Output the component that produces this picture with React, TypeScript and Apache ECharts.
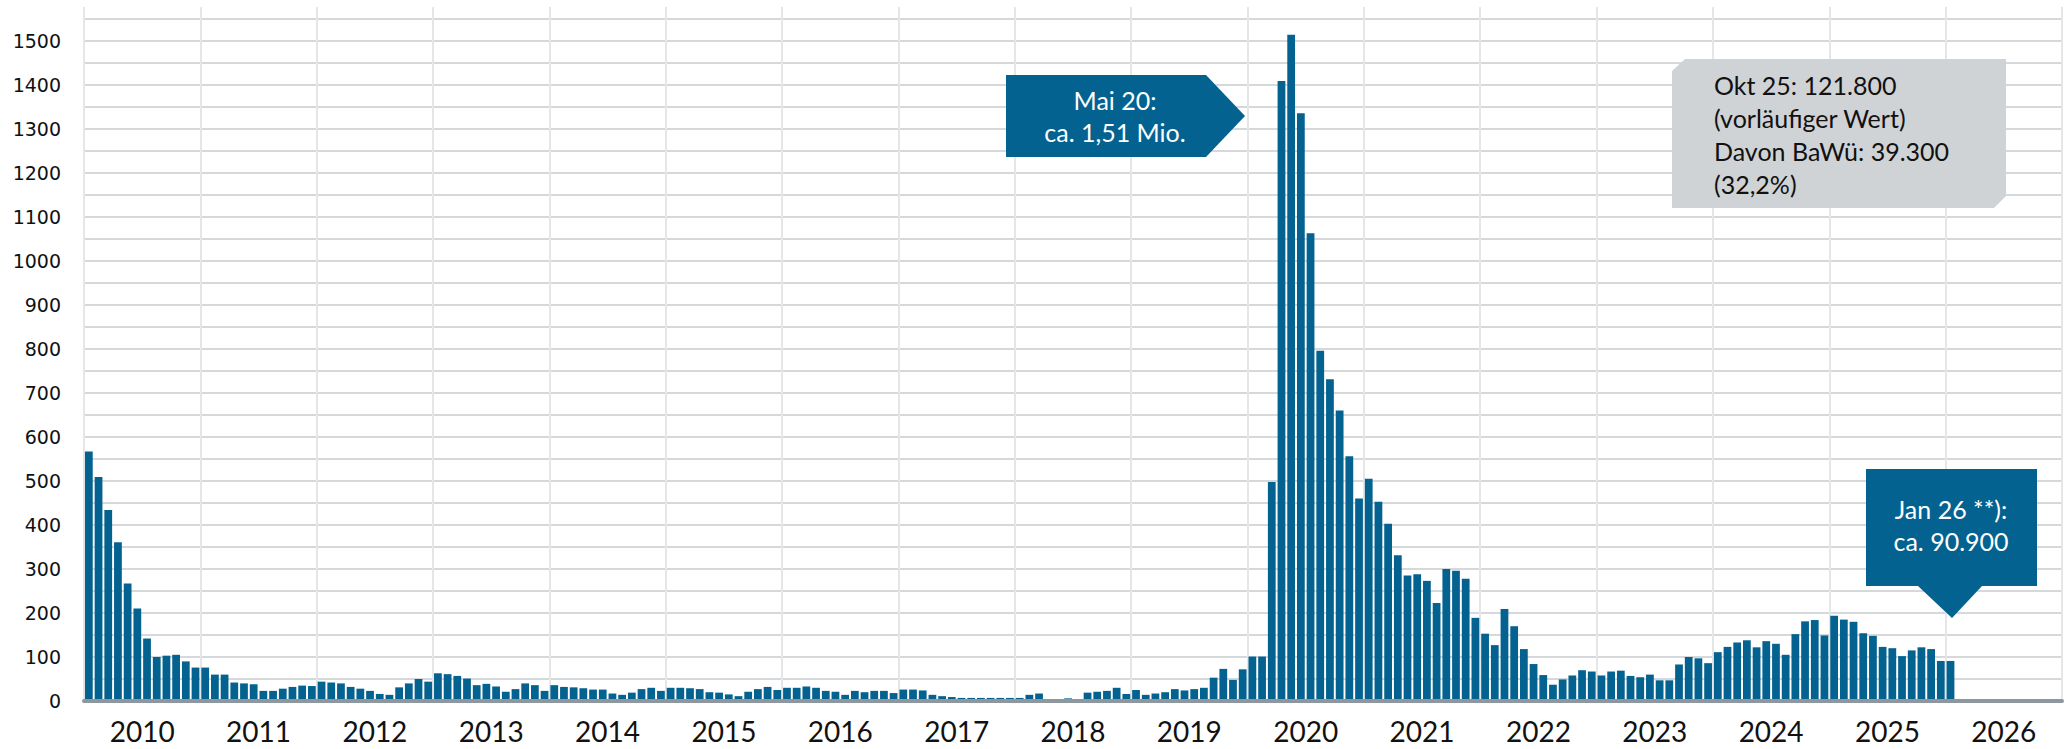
import React, { useEffect, useRef } from "react";
import * as echarts from "echarts";

const years = ["2010","2011","2012","2013","2014","2015","2016","2017","2018","2019","2020","2021","2022","2023","2024","2025","2026"];

const v2010 = [567, 509, 434, 361, 267, 210, 142, 100, 103, 105, 90, 76];
const v2011 = [76, 60, 60, 42, 40, 38, 23, 23, 28, 32, 35, 34];
const v2012 = [44, 42, 40, 32, 28, 23, 16, 14, 31, 40, 50, 44];
const v2013 = [63, 61, 57, 51, 36, 39, 33, 21, 27, 40, 36, 23];
const v2014 = [36, 32, 31, 29, 26, 26, 17, 14, 19, 27, 30, 23];
const v2015 = [30, 30, 29, 27, 20, 19, 15, 11, 21, 27, 32, 25];
const v2016 = [30, 30, 33, 30, 23, 21, 14, 23, 20, 23, 23, 18];
const v2017 = [26, 26, 24, 14, 11, 9, 7, 7, 7, 7, 7, 7];
const v2018 = [7, 14, 17, 0, 0, 6, 0, 19, 21, 23, 30, 16];
const v2019 = [25, 14, 17, 20, 27, 24, 27, 30, 53, 73, 48, 72];
const v2020 = [101, 101, 498, 1409, 1514, 1336, 1063, 796, 731, 660, 556, 460];
const v2021 = [505, 453, 403, 331, 285, 288, 273, 223, 300, 296, 278, 189];
const v2022 = [153, 127, 209, 170, 118, 84, 59, 37, 49, 58, 70, 67];
const v2023 = [58, 67, 69, 57, 54, 60, 47, 47, 83, 100, 97, 86];
const v2024 = [111, 123, 133, 138, 122, 136, 130, 105, 152, 181, 184, 149];
const v2025 = [194, 185, 180, 154, 148, 123, 120, 102, 115, 122, 118, 91];
const v2026 = [91];

const yearValues = [v2010, v2011, v2012, v2013, v2014, v2015, v2016, v2017, v2018, v2019, v2020, v2021, v2022, v2023, v2024, v2025, v2026];
const monthNames = ["Jan","Feb","Mär","Apr","Mai","Jun","Jul","Aug","Sep","Okt","Nov","Dez"];

const annoMai = "Mai 20:\nca. 1,51 Mio.";
const annoOkt = "Okt 25: 121.800\n(vorläufiger Wert)\nDavon BaWü: 39.300\n(32,2%)";
const annoJan = "Jan 26 **):\nca. 90.900";

export default function App() {
  const ref = useRef<HTMLDivElement>(null);
  useEffect(() => {
    if (!ref.current) return;
    const chart = echarts.init(ref.current, undefined, { renderer: "svg" });
    const months: string[] = [];
    const values: (number | null)[] = [];
    years.forEach((y, i) => {
      monthNames.forEach((m, j) => {
        months.push(m + " " + y);
        const arr = yearValues[i];
        values.push(j < arr.length ? arr[j] : null);
      });
    });
    const blue = "#03628F";
    const annoFont = "Lato";
    chart.setOption({
      animation: false,
      backgroundColor: "#ffffff",
      grid: [
        { left: 84, right: 7, top: 19, bottom: 48 },
        { left: 84, right: 7, top: 7, bottom: 48 },
      ],
      xAxis: [
        {
          type: "category",
          gridIndex: 0,
          data: months,
          axisLine: { show: true, lineStyle: { color: "#8E979D", width: 4 } },
          axisTick: { show: false },
          axisLabel: { show: false },
          splitLine: { show: false },
          z: 10,
        },
        {
          type: "category",
          gridIndex: 1,
          data: years,
          position: "bottom",
          axisLine: { show: false },
          axisTick: { show: false },
          axisLabel: { fontFamily: "Lato", fontSize: 28, color: "#111111", margin: 16 },
          splitLine: { show: true, lineStyle: { color: "#E4E6E8", width: 2 } },
        },
      ],
      yAxis: [
        {
          type: "value",
          gridIndex: 0,
          min: 0,
          max: 1550,
          interval: 50,
          axisLine: { show: false },
          axisTick: { show: false },
          axisLabel: {
            formatter: (v: number) => (v % 100 === 0 ? String(v) : ""),
            fontFamily: "DejaVu Sans",
            fontSize: 19,
            color: "#111111",
            margin: 23,
          },
          splitLine: { show: true, lineStyle: { color: "#D6D9DB", width: 2 } },
        },
        { type: "value", gridIndex: 1, show: false, min: 0, max: 1 },
      ],
      series: [
        {
          type: "bar",
          xAxisIndex: 0,
          yAxisIndex: 0,
          data: values,
          barWidth: "80%",
          itemStyle: { color: blue },
        },
      ],
      graphic: [
        {
          type: "polygon",
          z: 100,
          shape: { points: [[1006, 75], [1206, 75], [1245, 116], [1206, 157], [1006, 157]] },
          style: { fill: blue },
        },
        {
          type: "text",
          z: 101,
          x: 1115,
          y: 116,
          style: { text: annoMai, fill: "#ffffff", fontFamily: annoFont, fontSize: 25, lineHeight: 32, align: "center", verticalAlign: "middle" },
        },
        {
          type: "polygon",
          z: 100,
          shape: { points: [[1685, 59], [2006, 59], [2006, 196], [1994, 208], [1672, 208], [1672, 71]] },
          style: { fill: "#D0D3D5" },
        },
        {
          type: "text",
          z: 101,
          x: 1714,
          y: 134,
          style: { text: annoOkt, fill: "#111111", fontFamily: annoFont, fontSize: 25, lineHeight: 33, align: "left", verticalAlign: "middle" },
        },
        {
          type: "polygon",
          z: 100,
          shape: { points: [[1866, 469], [2037, 469], [2037, 586], [1982, 586], [1952, 618], [1918, 586], [1866, 586]] },
          style: { fill: blue },
        },
        {
          type: "text",
          z: 101,
          x: 1951,
          y: 525,
          style: { text: annoJan, fill: "#ffffff", fontFamily: annoFont, fontSize: 25, lineHeight: 32, align: "center", verticalAlign: "middle" },
        },
      ],
    });
    return () => chart.dispose();
  }, []);
  return (
    <div
      ref={ref}
      style={{ position: "fixed", left: 0, top: 0, width: "2069px", height: "749px", background: "#ffffff" }}
    />
  );
}
